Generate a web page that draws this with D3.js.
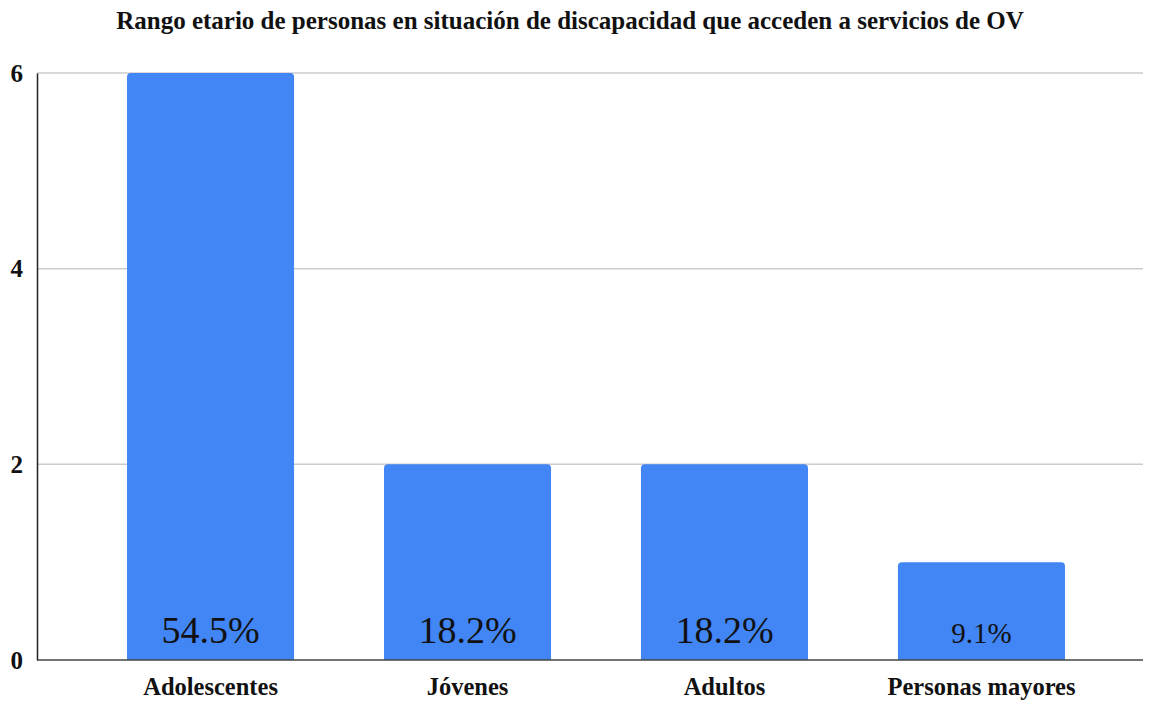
<!DOCTYPE html>
<html><head><meta charset="utf-8">
<script src="https://cdn.jsdelivr.net/npm/d3@7"></script>
<style>body{margin:0;background:#fff}svg{display:block}
svg text{font-family:"Liberation Serif","Times New Roman",serif}</style>
</head><body>
<svg id="c" width="1171" height="702"></svg>
<script>
const title = "Rango etario de personas en situación de discapacidad que acceden a servicios de OV";
const categories = ["Adolescentes", "Jóvenes", "Adultos", "Personas mayores"];
const values = [6, 2, 2, 1];
const percentLabels = ["54.5%", "18.2%", "18.2%", "9.1%"];
const yTicks = [0, 2, 4, 6];

(function () {
const svg = d3.select("#c");
const mLeft = 37, mRight = 1143, mTop = 73, mBottom = 660;
const x = d3.scaleBand().domain(categories).range([mLeft + 6, mRight + 6]).paddingInner(0.35).paddingOuter(0.327);
const y = d3.scaleLinear().domain([0, 6]).range([mBottom, mTop]);

svg.append("text").attr("x", 570).attr("y", 29).attr("text-anchor", "middle")
  .attr("font-weight", "bold").attr("font-size", 25)
  .attr("fill", "#111").text(title);

svg.append("g").selectAll("line").data(yTicks.filter(d => d > 0)).join("line")
  .attr("x1", mLeft).attr("x2", mRight).attr("y1", d => y(d)).attr("y2", d => y(d))
  .attr("stroke", "#cccccc").attr("stroke-width", 1.5);

const r = 4;
svg.append("g").selectAll("path").data(categories).join("path")
  .attr("fill", "#4285f4")
  .attr("d", (c, i) => {
    const x0 = x(c), w = x.bandwidth(), yt = y(values[i]), yb = y(0);
    return `M${x0},${yb}V${yt + r}Q${x0},${yt} ${x0 + r},${yt}H${x0 + w - r}Q${x0 + w},${yt} ${x0 + w},${yt + r}V${yb}Z`;
  });

svg.append("g").selectAll("text").data(categories).join("text")
  .attr("x", c => x(c) + x.bandwidth() / 2)
  .attr("y", 643)
  .attr("text-anchor", "middle")
  .attr("font-size", (c, i) => (y(0) - y(values[i])) < 150 ? 29 : 38)
  .attr("fill", "#111")
  .text((c, i) => percentLabels[i]);

const yAxis = svg.append("g").attr("transform", `translate(${mLeft},0)`)
  .call(d3.axisLeft(y).tickValues(yTicks).tickSize(0).tickPadding(14).tickFormat(d3.format("d")));
yAxis.attr("font-family", null);
yAxis.select(".domain").attr("stroke", "#222").attr("stroke-width", 1.5);
yAxis.selectAll("text").attr("font-weight", "bold").attr("font-size", 25).attr("fill", "#111");

const xAxis = svg.append("g").attr("transform", `translate(0,${mBottom})`)
  .call(d3.axisBottom(x).tickSize(0).tickPadding(18));
xAxis.attr("font-family", null);
xAxis.select(".domain").attr("stroke", "#444").attr("stroke-width", 1.5).attr("d", `M${mLeft},0H${mRight}`);
xAxis.selectAll("text").attr("font-weight", "bold").attr("font-size", 24.5).attr("fill", "#111");
})();
</script>
</body></html>
